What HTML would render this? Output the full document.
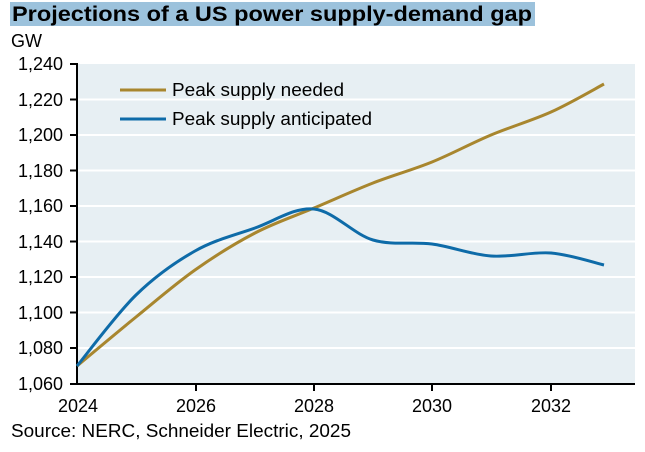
<!DOCTYPE html>
<html><head><meta charset="utf-8"><style>
body{margin:0;background:#fff;width:645px;height:452px;overflow:hidden}
svg{display:block;font-family:"Liberation Sans",Arial,sans-serif}
</style></head><body>
<svg width="645" height="452" viewBox="0 0 645 452">
<rect x="10" y="2" width="525" height="24" fill="#9cc2dc"/>
<text x="12" y="21" font-size="21" font-weight="bold" fill="#000" textLength="520" lengthAdjust="spacingAndGlyphs">Projections of a US power supply-demand gap</text>
<text x="11" y="47" font-size="18" fill="#000">GW</text>
<rect x="77" y="64" width="558" height="320" fill="#e7eff3"/>
<g stroke="#fff" stroke-width="2">
<line x1="77" x2="635" y1="99.5" y2="99.5"/><line x1="77" x2="635" y1="135" y2="135"/>
<line x1="77" x2="635" y1="170.5" y2="170.5"/><line x1="77" x2="635" y1="206" y2="206"/>
<line x1="77" x2="635" y1="241.5" y2="241.5"/><line x1="77" x2="635" y1="277" y2="277"/>
<line x1="77" x2="635" y1="312.5" y2="312.5"/><line x1="77" x2="635" y1="348" y2="348"/>
</g>
<g stroke="#000" stroke-width="2">
<line x1="77" y1="63" x2="77" y2="385"/><line x1="76" y1="384" x2="635" y2="384"/>
<line x1="70" x2="77" y1="64" y2="64"/><line x1="70" x2="77" y1="99.5" y2="99.5"/><line x1="70" x2="77" y1="135" y2="135"/><line x1="70" x2="77" y1="170.5" y2="170.5"/><line x1="70" x2="77" y1="206" y2="206"/><line x1="70" x2="77" y1="241.5" y2="241.5"/><line x1="70" x2="77" y1="277" y2="277"/><line x1="70" x2="77" y1="312.5" y2="312.5"/><line x1="70" x2="77" y1="348" y2="348"/><line x1="70" x2="77" y1="384" y2="384"/>
<line x1="196" x2="196" y1="384" y2="391"/><line x1="314" x2="314" y1="384" y2="391"/><line x1="432" x2="432" y1="384" y2="391"/><line x1="551" x2="551" y1="384" y2="391"/>
</g>
<g font-size="18" fill="#000" text-anchor="end">
<text x="63" y="70">1,240</text><text x="63" y="106">1,220</text><text x="63" y="141">1,200</text><text x="63" y="177">1,180</text><text x="63" y="212">1,160</text><text x="63" y="248">1,140</text><text x="63" y="283">1,120</text><text x="63" y="319">1,100</text><text x="63" y="354">1,080</text><text x="63" y="390">1,060</text>
</g>
<g font-size="18" fill="#000" text-anchor="middle">
<text x="78" y="412">2024</text><text x="196" y="412">2026</text><text x="314" y="412">2028</text><text x="432" y="412">2030</text><text x="551" y="412">2032</text>
</g>
<text x="11" y="437" font-size="18" fill="#000" textLength="340" lengthAdjust="spacingAndGlyphs">Source: NERC, Schneider Electric, 2025</text>
<path id="pn" fill="none" stroke="#a8862e" stroke-width="3" stroke-linejoin="round" d="M77,366 L136,317 195,270 255,233 314,208 373,183 432,162 491,135 551,112 604,84"/>
<path id="pa" fill="none" stroke="#0e6ba8" stroke-width="3" stroke-linejoin="round" d="M77,366 L100,330 120,307 136,294 160,272 195,250 225,237 255,228 285,216 305,209 318,211 340,228 360,240 373,242 400,243 432,244 460,251 491,256 520,254 551,253 575,258 604,265"/>
<line x1="120" x2="166" y1="90" y2="90" stroke="#a8862e" stroke-width="3"/>
<line x1="120" x2="166" y1="119" y2="119" stroke="#0e6ba8" stroke-width="3"/>
<text x="172" y="96" font-size="18" fill="#000" textLength="172" lengthAdjust="spacingAndGlyphs">Peak supply needed</text>
<text x="172" y="125" font-size="18" fill="#000" textLength="200" lengthAdjust="spacingAndGlyphs">Peak supply anticipated</text>
</svg>
<script>
function cr(p){var d="M"+p[0][0]+","+p[0][1];for(var i=0;i<p.length-1;i++){var p0=p[i-1]||p[i],p1=p[i],p2=p[i+1],p3=p[i+2]||p2;
d+=" C"+(p1[0]+(p2[0]-p0[0])/6).toFixed(1)+","+(p1[1]+(p2[1]-p0[1])/6).toFixed(1)+" "+(p2[0]-(p3[0]-p1[0])/6).toFixed(1)+","+(p2[1]-(p3[1]-p1[1])/6).toFixed(1)+" "+p2[0]+","+p2[1];}return d;}
var X=[77,136,195,255,314,373,432,491,551,604];
var N=[366,317,270,233,208,183,162,135,112,84],A=[366,295,251,228,209,240,244,256,253,265];
document.getElementById("pn").setAttribute("d",cr(X.map(function(x,i){return[x,N[i]]})));
document.getElementById("pa").setAttribute("d",cr(X.map(function(x,i){return[x,A[i]]})));
</script>
</body></html>
